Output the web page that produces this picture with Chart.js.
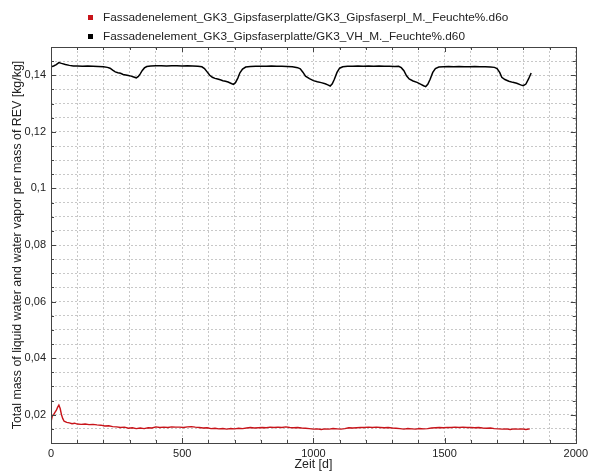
<!DOCTYPE html>
<html>
<head>
<meta charset="utf-8">
<script src="https://cdn.jsdelivr.net/npm/chart.js@4.4.0/dist/chart.umd.min.js"></script>
<style>
  html, body { margin: 0; padding: 0; background: #fff; }
  #wrap { position: relative; width: 592px; height: 472px; }
  #legend { position: absolute; left: 88px; top: 9px; font: 11.8px "Liberation Sans", Arial, sans-serif; color: #222; }
  #legend div { height: 19.4px; line-height: 16px; white-space: nowrap; }
  #legend span { display: inline-block; width: 5px; height: 5px; margin-right: 10px; vertical-align: 1px; }
</style>
</head>
<body>
<div id="wrap">
  <canvas id="chart1" width="592" height="472"></canvas>
  <div id="legend"></div>
</div>
<script>
// series names
var seriesNames = [
  'Fassadenelement_GK3_Gipsfaserplatte/GK3_Gipsfaserpl_M._Feuchte%.d6o',
  'Fassadenelement_GK3_Gipsfaserplatte/GK3_VH_M._Feuchte%.d60'
]
var seriesColors = ['#c8141a', '#000000']

// Gipsfaserplatte (red)
var daysRed = [0, 5, 10, 15, 20, 25, 30, 35, 40, 45, 50, 60, 70, 80, 90, 100, 115, 130, 145, 160, 175, 190, 205, 220, 235, 250, 265, 280, 295, 310, 325, 340, 355, 370, 385, 400, 415, 430, 445, 460, 475, 490, 505, 520, 535, 550, 565, 580, 595, 610, 625, 640, 655, 670, 685, 700, 715, 730, 745, 760, 775, 790, 805, 820, 835, 850, 865, 880, 895, 910, 925, 940, 955, 970, 985, 1000, 1015, 1030, 1045, 1060, 1075, 1090, 1105, 1120, 1135, 1150, 1165, 1180, 1195, 1210, 1225, 1240, 1255, 1270, 1285, 1300, 1315, 1330, 1345, 1360, 1375, 1390, 1405, 1420, 1435, 1450, 1465, 1480, 1495, 1510, 1525, 1540, 1555, 1570, 1585, 1600, 1615, 1630, 1645, 1660, 1675, 1690, 1705, 1720, 1735, 1750, 1765, 1780, 1795, 1810, 1825]
var valuesRed = [0.0175, 0.0195, 0.0200, 0.0208, 0.0215, 0.0226, 0.0234, 0.0222, 0.0200, 0.0186, 0.0177, 0.0173, 0.0171, 0.0168, 0.0170, 0.0167, 0.0166, 0.0167, 0.0165, 0.0166, 0.0164, 0.0163, 0.0160, 0.0161, 0.0158, 0.0157, 0.0155, 0.0156, 0.0152, 0.0154, 0.0151, 0.0153, 0.0151, 0.0154, 0.0153, 0.0157, 0.0155, 0.0156, 0.0155, 0.0157, 0.0156, 0.0156, 0.0155, 0.0157, 0.0158, 0.0156, 0.0155, 0.0153, 0.0154, 0.0151, 0.0152, 0.0150, 0.0151, 0.0149, 0.0151, 0.0150, 0.0152, 0.0151, 0.0153, 0.0155, 0.0153, 0.0154, 0.0155, 0.0154, 0.0156, 0.0155, 0.0156, 0.0155, 0.0157, 0.0155, 0.0154, 0.0155, 0.0153, 0.0152, 0.0151, 0.0149, 0.0150, 0.0148, 0.0150, 0.0149, 0.0151, 0.0150, 0.0149, 0.0151, 0.0154, 0.0153, 0.0154, 0.0155, 0.0155, 0.0156, 0.0155, 0.0156, 0.0155, 0.0154, 0.0155, 0.0153, 0.0152, 0.0151, 0.0149, 0.0151, 0.0150, 0.0149, 0.0151, 0.0150, 0.0151, 0.0153, 0.0154, 0.0155, 0.0154, 0.0155, 0.0155, 0.0156, 0.0155, 0.0156, 0.0155, 0.0155, 0.0154, 0.0155, 0.0153, 0.0152, 0.0153, 0.0151, 0.0150, 0.0149, 0.0150, 0.0148, 0.0150, 0.0149, 0.0150, 0.0148, 0.0150]

// VH (black)
var daysBlack = [0, 10, 20, 30, 40, 55, 70, 85, 100, 120, 140, 160, 180, 200, 215, 225, 235, 245, 255, 265, 275, 285, 295, 305, 315, 325, 333, 340, 348, 356, 365, 380, 400, 420, 440, 460, 480, 500, 520, 540, 560, 575, 585, 595, 605, 615, 625, 635, 645, 655, 665, 675, 685, 695, 703, 712, 720, 730, 742, 760, 780, 800, 820, 840, 860, 880, 900, 920, 940, 950, 960, 970, 985, 1000, 1015, 1030, 1045, 1055, 1064, 1072, 1080, 1090, 1100, 1112, 1130, 1150, 1170, 1190, 1210, 1230, 1250, 1270, 1290, 1310, 1325, 1335, 1345, 1355, 1365, 1380, 1395, 1410, 1420, 1428, 1436, 1445, 1455, 1465, 1478, 1495, 1515, 1535, 1555, 1575, 1595, 1615, 1635, 1655, 1675, 1690, 1700, 1710, 1718, 1730, 1745, 1760, 1775, 1790, 1800, 1810, 1820, 1830]
var valuesBlack = [0.1430, 0.1433, 0.1438, 0.1445, 0.1442, 0.1438, 0.1435, 0.1433, 0.1433, 0.1432, 0.1433, 0.1432, 0.1431, 0.1430, 0.1428, 0.1425, 0.1418, 0.1412, 0.1409, 0.1407, 0.1403, 0.1401, 0.1399, 0.1397, 0.1394, 0.1391, 0.1396, 0.1405, 0.1417, 0.1426, 0.1431, 0.1433, 0.1434, 0.1434, 0.1433, 0.1434, 0.1434, 0.1433, 0.1434, 0.1433, 0.1432, 0.1430, 0.1424, 0.1412, 0.1400, 0.1393, 0.1389, 0.1387, 0.1384, 0.1381, 0.1379, 0.1376, 0.1372, 0.1368, 0.1374, 0.1390, 0.1409, 0.1422, 0.1429, 0.1431, 0.1432, 0.1432, 0.1432, 0.1433, 0.1432, 0.1432, 0.1431, 0.1430, 0.1427, 0.1423, 0.1411, 0.1397, 0.1388, 0.1381, 0.1377, 0.1374, 0.1370, 0.1366, 0.1362, 0.1370, 0.1386, 0.1410, 0.1425, 0.1430, 0.1432, 0.1432, 0.1433, 0.1432, 0.1433, 0.1432, 0.1433, 0.1432, 0.1432, 0.1431, 0.1432, 0.1427, 0.1416, 0.1398, 0.1387, 0.1380, 0.1375, 0.1368, 0.1363, 0.1360, 0.1368, 0.1386, 0.1410, 0.1424, 0.1429, 0.1430, 0.1431, 0.1430, 0.1431, 0.1430, 0.1430, 0.1431, 0.1430, 0.1430, 0.1429, 0.1428, 0.1424, 0.1410, 0.1393, 0.1385, 0.1379, 0.1375, 0.1372, 0.1366, 0.1363, 0.1369, 0.1387, 0.1408]

// axes
var xMin = 0, xMax = 2000, xStep = 100, xLabelEvery = 500
var yMin = 0.01, yMax = 0.15, yStep = 0.005, yLabelEvery = 0.02
var xTitle = 'Zeit [d]'
var yTitle = 'Total mass of liquid water and water vapor per mass of REV [kg/kg]'

function toPoints(xs, ys) {
  return xs.map(function (x, i) { return {x: x, y: ys[i]} })
}

// legend (html)
var legendEl = document.getElementById('legend')
seriesNames.forEach(function (name, i) {
  var row = document.createElement('div')
  var sq = document.createElement('span')
  sq.style.background = seriesColors[i]
  row.appendChild(sq)
  row.appendChild(document.createTextNode(name))
  legendEl.appendChild(row)
})

// frame + inward ticks on all 4 sides
var framePlugin = {
  id: 'frame',
  afterDraw: function (chart) {
    var ctx = chart.ctx, a = chart.chartArea
    var xs = chart.scales.x, ys = chart.scales.y
    ctx.save()
    ctx.strokeStyle = '#444'
    ctx.lineWidth = 1
    ctx.strokeRect(Math.round(a.left) + 0.5, Math.round(a.top) + 0.5, Math.round(a.right - a.left), Math.round(a.bottom - a.top))
    ctx.beginPath()
    for (var v = xMin; v <= xMax; v += xStep) {
      var px = Math.round(xs.getPixelForValue(v)) + 0.5
      var len = (v % xLabelEvery === 0) ? 5 : 3
      ctx.moveTo(px, a.bottom); ctx.lineTo(px, a.bottom - len)
      ctx.moveTo(px, a.top); ctx.lineTo(px, a.top + len)
    }
    var n = Math.round((yMax - yMin) / yStep)
    for (var k = 0; k <= n; k++) {
      var val = yMin + k * yStep
      var py = Math.round(ys.getPixelForValue(val)) + 0.5
      var major = Math.abs(Math.round(val * 1000) % Math.round(yLabelEvery * 1000)) === 0
      var l2 = major ? 5 : 3
      ctx.moveTo(a.left, py); ctx.lineTo(a.left + l2, py)
      ctx.moveTo(a.right, py); ctx.lineTo(a.right - l2, py)
    }
    ctx.stroke()
    ctx.restore()
  }
}

var font = {family: '"Liberation Sans", Arial, sans-serif', size: 11}
var titleFont = {family: '"Liberation Sans", Arial, sans-serif', size: 12.4}

var chart = new Chart(document.getElementById('chart1').getContext('2d'), {
  type: 'line',
  data: {
    datasets: [
      {
        label: seriesNames[0],
        data: toPoints(daysRed, valuesRed),
        borderColor: seriesColors[0],
        borderWidth: 1.4,
        pointRadius: 0,
        tension: 0
      },
      {
        label: seriesNames[1],
        data: toPoints(daysBlack, valuesBlack),
        borderColor: seriesColors[1],
        borderWidth: 1.5,
        pointRadius: 0,
        tension: 0
      }
    ]
  },
  options: {
    responsive: false,
    animation: false,
    layout: {padding: {top: 47, right: 14, left: 0, bottom: 0}},
    plugins: {legend: {display: false}, tooltip: {enabled: false}},
    scales: {
      x: {
        type: 'linear',
        min: xMin,
        max: xMax,
        afterFit: function (s) { s.height = 29 },
        ticks: {
          stepSize: xStep,
          autoSkip: false,
          maxRotation: 0,
          padding: 4,
          color: '#222',
          font: font,
          callback: function (v) { return (v % xLabelEvery === 0) ? String(v) : '' }
        },
        grid: {color: '#c8c8c8', drawTicks: false, lineWidth: 1},
        border: {display: false, dash: [2, 2]},
        title: {display: true, text: xTitle, color: '#222', font: titleFont, padding: {top: 0, bottom: 0}}
      },
      y: {
        min: yMin,
        max: yMax,
        afterFit: function (s) { s.width = 51 },
        ticks: {
          stepSize: yStep,
          autoSkip: false,
          padding: 5,
          color: '#222',
          font: font,
          callback: function (v) {
            var m = Math.round(v * 1000)
            if (m % Math.round(yLabelEvery * 1000) !== 0) return ''
            return String(m / 1000).replace('.', ',')
          }
        },
        grid: {color: '#c8c8c8', drawTicks: false, lineWidth: 1},
        border: {display: false, dash: [2, 2]},
        title: {display: true, text: yTitle, color: '#222', font: titleFont, padding: {top: 10, bottom: 0}}
      }
    }
  },
  plugins: [framePlugin]
})
</script>
</body>
</html>
